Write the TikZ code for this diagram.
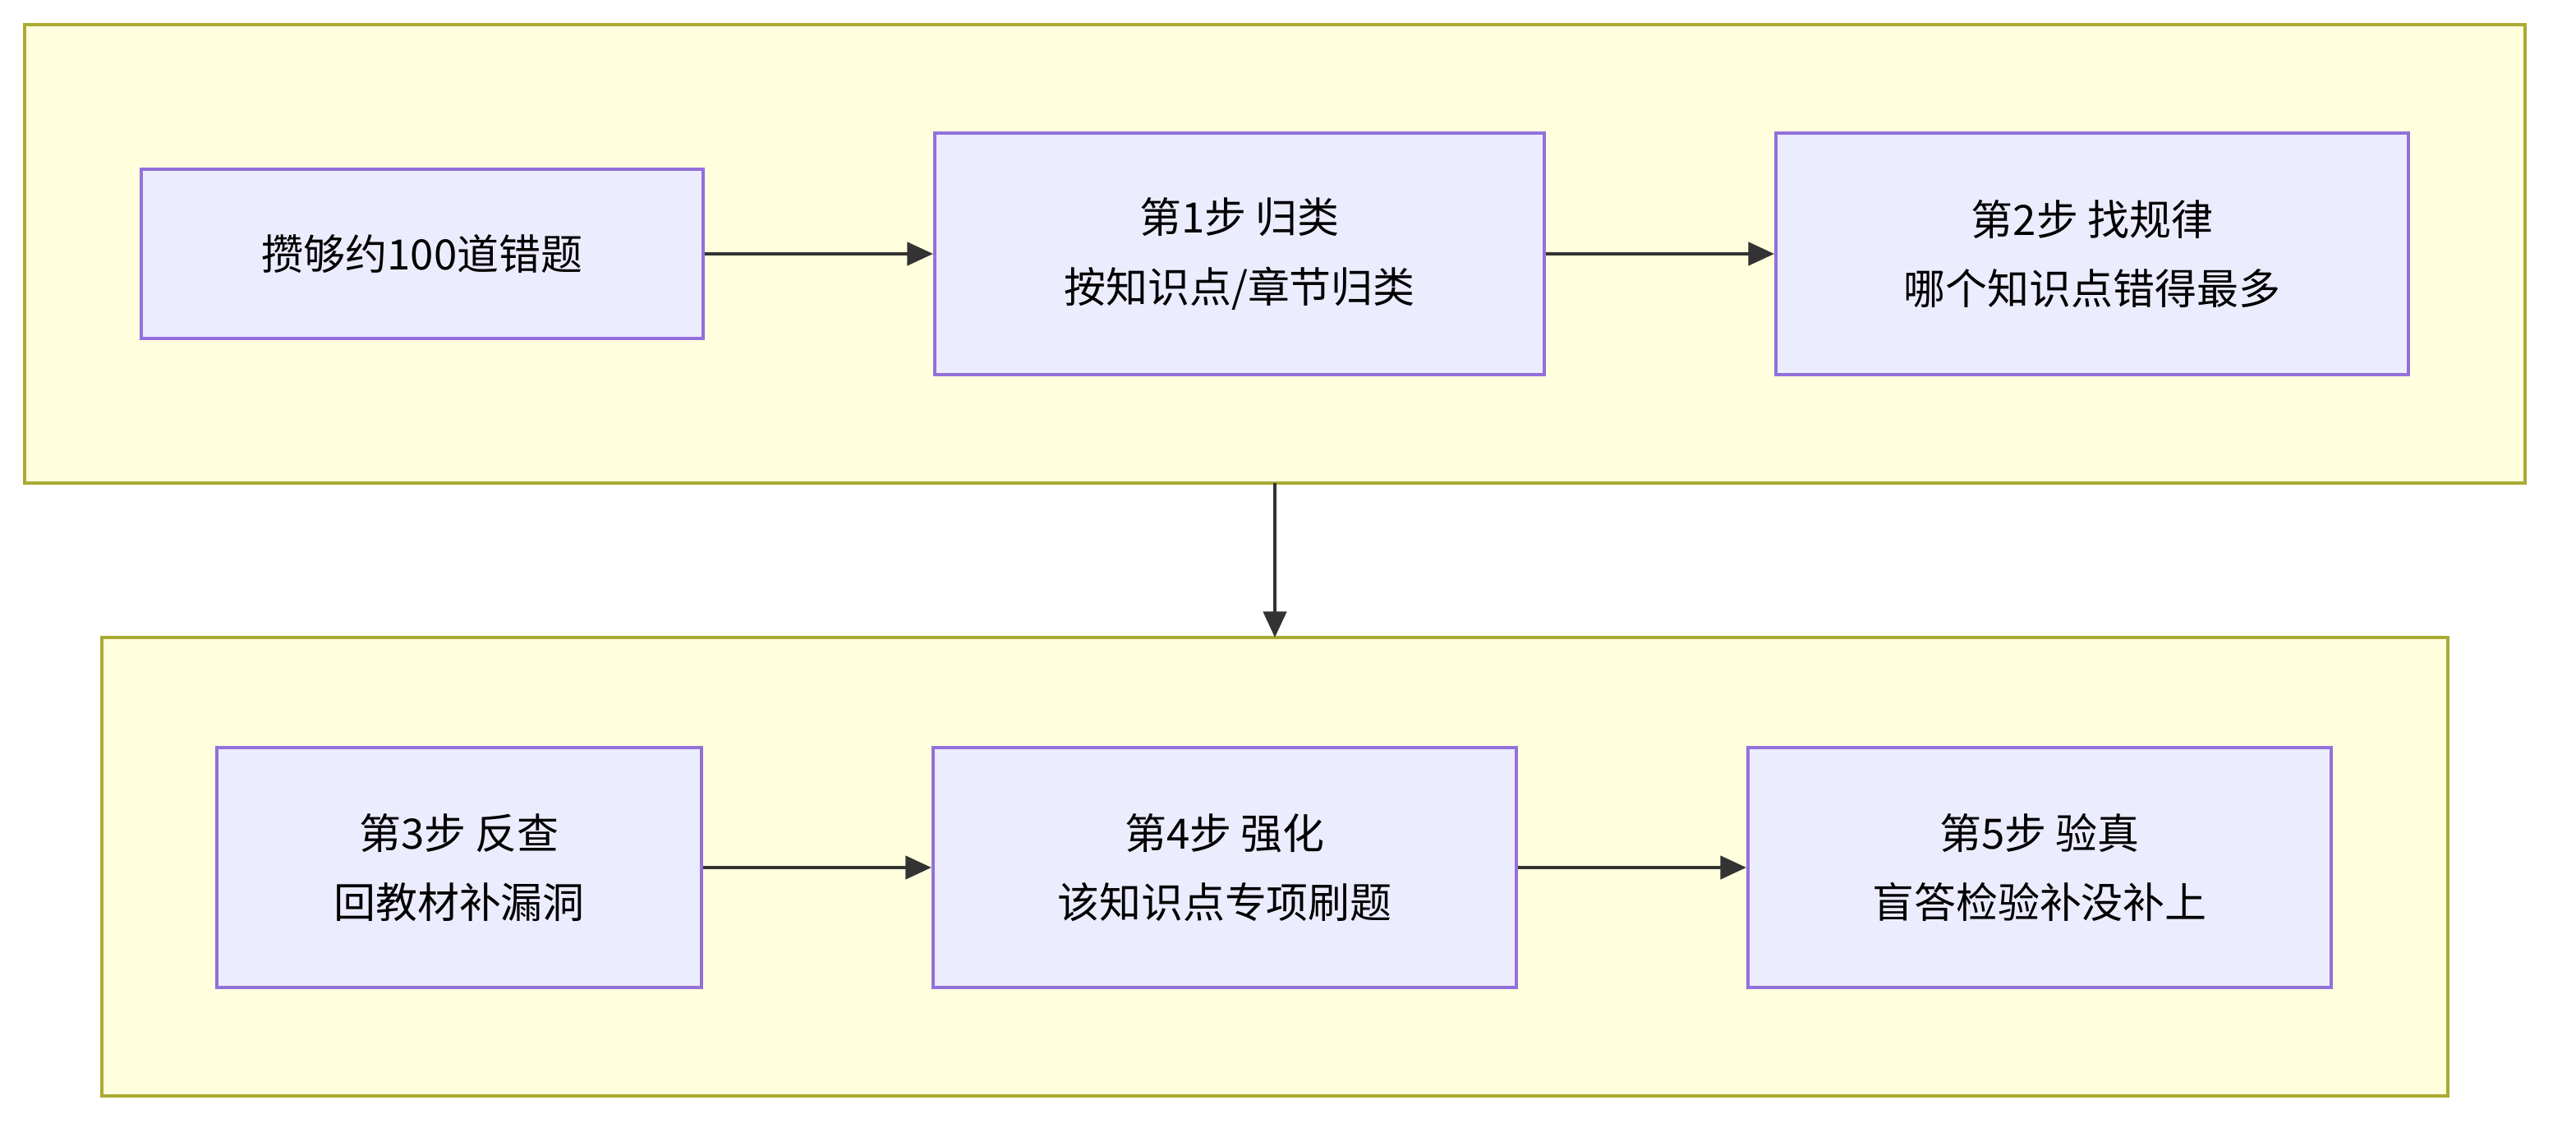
\documentclass[tikz,border=0pt]{standalone}
\usepackage{fontspec}
\setmainfont{Noto Sans CJK SC}
\usetikzlibrary{arrows.meta}
\definecolor{grpfill}{HTML}{FFFFDE}
\definecolor{grpline}{HTML}{AAAA33}
\definecolor{nfill}{HTML}{ECECFF}
\definecolor{nline}{HTML}{9370DB}
\definecolor{aline}{HTML}{333333}
\begin{document}
\begin{tikzpicture}[x=0.02cm,y=-0.02cm,
  grp/.style={draw=grpline,fill=grpfill,line width=1.2pt},
  box/.style={draw=nline,fill=nfill,line width=1.2pt,align=center,font=\fontsize{14.5pt}{24pt}\selectfont,inner sep=0pt},
  arr/.style={draw=aline,line width=1.2pt,-{Triangle[length=9pt,width=8pt]}}]
\useasboundingbox (0,0) rectangle (1568,692);
\draw[grp] (15,15) rectangle (1537,294);
\draw[grp] (62,388) rectangle (1490,667);
\node[box,minimum width=6.84cm,minimum height=2.06cm] (a) at (257,154.5) {攒够约100道错题};
\node[box,minimum width=7.42cm,minimum height=2.94cm] (b) at (754.5,154.5) {第1步 归类\\按知识点/章节归类};
\node[box,minimum width=7.7cm,minimum height=2.94cm] (c) at (1273.5,154.5) {第2步 找规律\\哪个知识点错得最多};
\node[box,minimum width=5.9cm,minimum height=2.92cm] (d) at (279.5,528) {第3步 反查\\回教材补漏洞};
\node[box,minimum width=7.1cm,minimum height=2.92cm] (e) at (745.5,528) {第4步 强化\\该知识点专项刷题};
\node[box,minimum width=7.1cm,minimum height=2.92cm] (f) at (1241.5,528) {第5步 验真\\盲答检验补没补上};
\coordinate (g1) at (776,294);
\coordinate (g2) at (776,388);
\draw[arr] (a) -- (b);
\draw[arr] (b) -- (c);
\draw[arr] (d) -- (e);
\draw[arr] (e) -- (f);
\draw[arr] (g1) -- (g2);
\end{tikzpicture}
\end{document}
